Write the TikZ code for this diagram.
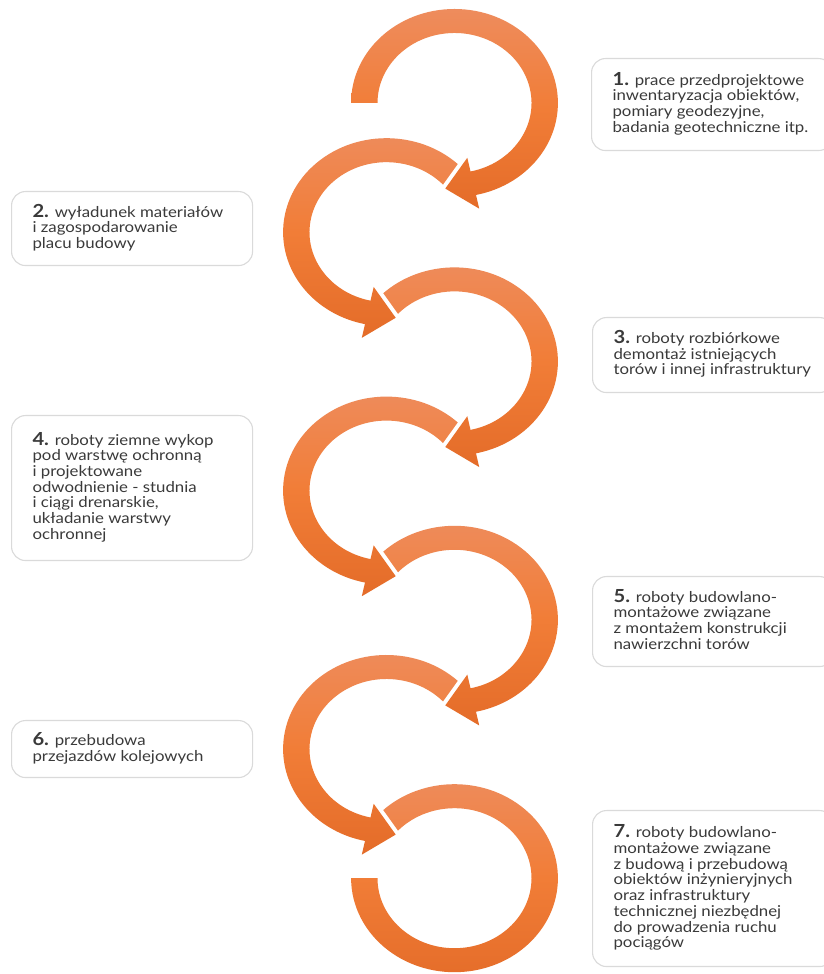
\documentclass[tikz,border=0pt]{standalone}
\usepackage{fontspec}
\usepackage{graphicx}
\setmainfont{Lato}
\definecolor{bandtop}{HTML}{EE8C5D}
\definecolor{bandmid}{HTML}{F17D37}
\definecolor{bandbot}{HTML}{E46C29}
\definecolor{boxline}{HTML}{DADADA}
\definecolor{textgray}{HTML}{3A3A3A}
\tikzset{
  % Orange ring band, white rim where it crosses the next one
  band/.style={top color=bandtop, bottom color=bandbot, middle color=bandmid,
    preaction={draw=white, line width=8pt, line join=round}},
  % Step box
  sbox/.style={draw=boxline, line width=1.1pt, fill=white, rounded
    corners=14pt, minimum width=241pt, text width=199pt, inner xsep=21pt,
    inner ysep=0pt, align=flush left, anchor=north west, text=textgray,
    font=\fontsize{15}{15.5}\selectfont},
}
% Step number
\newcommand\stepno[1]{{\fontsize{18}{15.5}\selectfont\bfseries #1}}
% Lines of a step text, a little wide
\newcommand\steptext[1]{\scalebox{1.12}[1]{\begin{tabular}{@{}l@{}}#1\end{tabular}}}
% Ring with arrow head: start angle, end angle
\newcommand\bandhead[2]{%
  \path[band] (#1:94) arc[start angle=#1, end angle=#2, radius=94]
    -- (#2:108) -- ({#2-17.6}:86) -- (#2:56) -- (#2:70)
    arc[start angle=#2, end angle=#1, radius=70] -- cycle;}

\begin{document}
\begin{tikzpicture}[x=1pt, y=1pt]
  \useasboundingbox (0,0) rectangle (823,974);

  % Rings, lowest first
  \begin{scope}[shift={(454.5,95.8)}, xscale=1.1]
    \path[band] (140:94) arc[start angle=140, end angle=-180, radius=94]
      -- (-180:70) arc[start angle=-180, end angle=140, radius=70] -- cycle;
  \end{scope}
  \foreach \cx/\cy/\dir/\s in {386.5/225/-1/140, 454.5/354.2/1/140,
      386.5/483.4/-1/140, 454.5/612.6/1/140, 386.5/741.8/-1/140,
      454.5/871/1/180}{
    \begin{scope}[shift={(\cx,\cy)}, xscale=1.1*\dir]
      \bandhead{\s}{-78}
    \end{scope}
  }

  % Steps
  \node[sbox, minimum height=92] (s1) at (591,916)
    {\steptext{\stepno{1.} prace przedprojektowe\\ inwentaryzacja obiektów,\\
     pomiary geodezyjne,\\ badania geotechniczne itp.}};
  \node[sbox, minimum height=74] (s2) at (11,783)
    {\steptext{\stepno{2.} wyładunek materiałów\\ i zagospodarowanie\\
     placu budowy}};
  \node[sbox, minimum height=75] (s3) at (592,657)
    {\steptext{\stepno{3.} roboty rozbiórkowe\\ demontaż istniejących\\
     torów i innej infrastruktury}};
  \node[sbox, minimum height=145] (s4) at (11,559)
    {\steptext{\stepno{4.} roboty ziemne wykop\\ pod warstwę ochronną\\
     i projektowane\\ odwodnienie - studnia\\ i ciągi drenarskie,\\
     układanie warstwy\\ ochronnej}};
  \node[sbox, minimum height=90] (s5) at (592,398)
    {\steptext{\stepno{5.} roboty budowlano-\\ montażowe związane\\
     z montażem konstrukcji\\ nawierzchni torów}};
  \node[sbox, minimum height=57] (s6) at (11,254)
    {\steptext{\stepno{6.} przebudowa\\ przejazdów kolejowych}};
  \node[sbox, minimum height=156] (s7) at (592,164)
    {\steptext{\stepno{7.} roboty budowlano-\\ montażowe związane\\
     z budową i przebudową\\ obiektów inżynieryjnych\\
     oraz infrastruktury\\ technicznej niezbędnej\\
     do prowadzenia ruchu\\ pociągów}};
\end{tikzpicture}
\end{document}
